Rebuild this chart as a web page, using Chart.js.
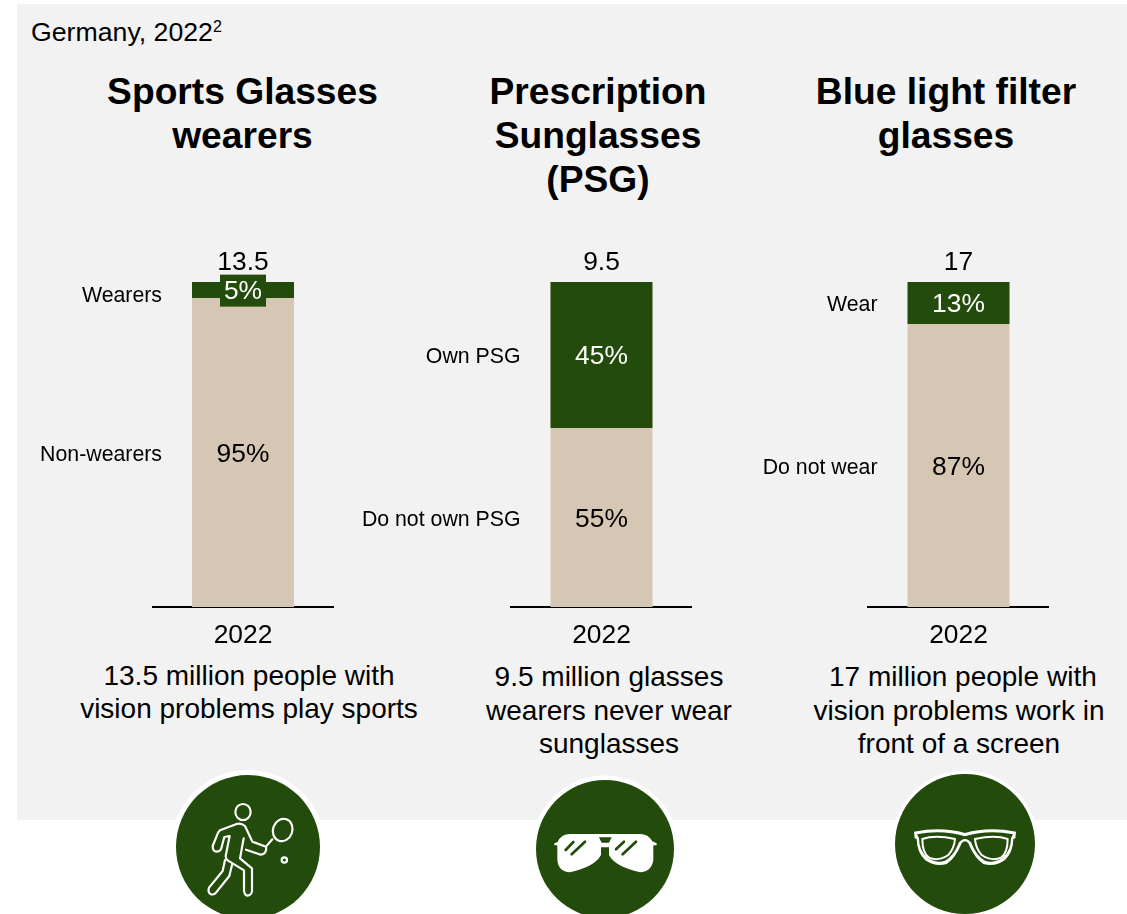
<!DOCTYPE html>
<html>
<head>
<meta charset="utf-8">
<title>Germany, 2022</title>
<script src="https://cdn.jsdelivr.net/npm/chart.js@4"></script>
<style>
html,body{margin:0;padding:0;background:#fff;}
body{width:1127px;height:914px;position:relative;overflow:hidden;font-family:"Liberation Sans",Arial,sans-serif;color:#000;}
#panel{position:absolute;left:17px;top:4px;width:1110px;height:816px;background:#f2f2f2;}
canvas{position:absolute;top:240px;}
.t{position:absolute;white-space:nowrap;transform:translate(-50%,-50%);text-align:center;}
.head{font-size:37.2px;font-weight:bold;line-height:44px;}
.note{font-size:28px;line-height:33.5px;}
#region{position:absolute;left:31px;top:17px;font-size:26.7px;line-height:30px;white-space:nowrap;}
#region sup{font-size:16px;line-height:0;vertical-align:9px;}
#icons{position:absolute;left:0;top:0;}
</style>
</head>
<body>
<div id="panel"></div>
<div id="region">Germany, 2022<sup>2</sup></div>

<div class="t head" style="left:242.5px;top:112.5px;">Sports Glasses<br>wearers</div>
<div class="t head" style="left:598px;top:134.5px;">Prescription<br>Sunglasses<br>(PSG)</div>
<div class="t head" style="left:946px;top:112.5px;">Blue light filter<br>glasses</div>

<canvas id="sportsChart"></canvas>
<canvas id="psgChart"></canvas>
<canvas id="blueChart"></canvas>

<div class="t note" style="left:249px;top:691.5px;">13.5 million people with<br>vision problems play sports</div>
<div class="t note" style="left:609px;top:710px;">9.5 million glasses<br>wearers never wear<br>sunglasses</div>
<div class="t note" style="left:959px;top:710px;">&nbsp;17 million people with<br>vision problems work in<br>front of a screen</div>

<svg id="icons" width="1127" height="914" viewBox="0 0 1127 914">
  <circle cx="248" cy="847" r="77" fill="#fff"/>
  <circle cx="248" cy="847" r="72" fill="#234b0b"/>
  <circle cx="605" cy="849" r="73.5" fill="#fff"/>
  <circle cx="605" cy="849" r="69" fill="#234b0b"/>
  <circle cx="965" cy="844" r="73.5" fill="#fff"/>
  <circle cx="965" cy="844" r="70" fill="#234b0b"/>

  <!-- tennis player -->
  <g transform="translate(195,791) scale(0.3333)" fill="none" stroke="#fff" stroke-width="6.5" stroke-linejoin="round" stroke-linecap="round">
    <ellipse cx="144" cy="63" rx="23" ry="24"/>
    <ellipse cx="263" cy="117" rx="29" ry="34" transform="rotate(20 263 117)"/>
    <circle cx="268" cy="207" r="8"/>
    <path d="M213 167L172 152L150 105Q138 95 125 99L75 118Q70 122 68 128L53 165Q53 182 65 182Q75 182 79 172L88 138L104 135L92 195Q92 203 98 208L147 238L147 300Q150 314 158 314Q170 312 171 300L171 232L135 202L146 142"/>
    <path d="M153 176L197 191Q210 190 213 178Q214 172 213 167L232 145"/>
    <path d="M90 207L83 240L42 290Q37 305 48 310Q58 312 63 305L103 255L111 222"/>
  </g>

  <!-- aviator sunglasses -->
  <g transform="translate(545,820) scale(0.3333)">
    <path fill="#fff" d="M28 76L28 70L38 66Q48 42 75 42L285 42Q310 42 322 64L335 70L335 76L325 76L325 120Q320 155 285 157Q210 140 192 105L192 82L168 82L168 105Q150 140 75 157Q40 155 37 120L37 76Z"/>
    <path fill="#234b0b" d="M162 52L200 52L192 68L170 68Z"/>
    <g stroke="#234b0b" stroke-width="8" stroke-linecap="round">
      <line x1="62" y1="90" x2="85" y2="66"/>
      <line x1="80" y1="103" x2="120" y2="65"/>
      <line x1="213" y1="88" x2="237" y2="65"/>
      <line x1="233" y1="103" x2="273" y2="65"/>
    </g>
  </g>

  <!-- thick framed glasses -->
  <g transform="translate(905,815) scale(0.3333)">
    <path fill="#fff" d="M27 50Q110 34 180 54Q250 34 333 50L331 70L325 72Q325 110 300 135Q270 157 235 147Q208 130 190 85Q180 72 170 85Q152 130 125 147Q90 157 60 135Q35 110 35 72L29 70Z"/>
    <path fill="#234b0b" d="M36 58Q110 43 180 64Q250 43 324 58L318 70Q318 108 292 128Q265 146 240 137Q215 125 198 82Q180 60 162 82Q145 125 120 137Q95 146 68 128Q42 108 42 70Z"/>
    <g fill="none" stroke="#fff" stroke-width="6" stroke-linejoin="round">
      <path d="M52 72Q90 58 150 72Q148 100 130 120Q100 140 72 128Q52 115 52 72Z"/>
      <path d="M308 72Q270 58 210 72Q212 100 230 120Q260 140 288 128Q308 115 308 72Z"/>
    </g>
  </g>
</svg>

<script>
const categories = ["2022"];

const sportsValues = [95, 5];
const sportsLabels = ["Non-wearers", "Wearers"];
const sportsTotal = "13.5";

const psgValues = [55, 45];
const psgLabels = ["Do not own PSG", "Own PSG"];
const psgTotal = "9.5";

const blueValues = [87, 13];
const blueLabels = ["Do not wear", "Wear"];
const blueTotal = "17";

const green = "#234b0b";
const tan = "#d5c7b3";
const fontName = '"Liberation Sans", Arial, sans-serif';

// draws the total, the percentages and the side captions of a stacked bar
const barText = {
  id: "barText",
  afterDatasetsDraw(chart, args, opts) {
    const c = chart.ctx;
    c.save();
    c.textBaseline = "middle";
    chart.data.datasets.forEach((ds, i) => {
      const bar = chart.getDatasetMeta(i).data[0];
      const mid = (bar.y + bar.base) / 2;
      const thin = bar.base - bar.y < 20;

      c.font = "21.3px " + fontName;
      c.textAlign = "right";
      c.fillStyle = "#000";
      // the caption of a thin segment sits a little lower than its centre
      c.fillText(opts.labels[i], bar.x - 81, mid + (thin ? 6 : 2));

      c.font = "26.4px " + fontName;
      c.textAlign = "center";
      if (thin) {
        c.fillStyle = green;
        c.fillRect(bar.x - 23, mid - 15.5, 46, 32);
      }
      c.fillStyle = i === 0 ? "#000" : "#fff";
      c.fillText(ds.data[0] + "%", bar.x, mid + 2);

      if (i === chart.data.datasets.length - 1) {
        c.fillStyle = "#000";
        c.fillText(opts.total, bar.x, bar.y - 19);
      }
    });
    c.restore();
  }
};

function drawChart(id, left, axisLeft, axisRight, values, labels, total) {
  const canvas = document.getElementById(id);
  canvas.style.left = left + "px";
  canvas.width = Math.ceil(axisRight - left);
  canvas.height = 410;

  return new Chart(canvas, {
    type: "bar",
    data: {
      labels: categories,
      datasets: [
        { label: labels[0], data: [values[0]], backgroundColor: tan },
        { label: labels[1], data: [values[1]], backgroundColor: green }
      ]
    },
    options: {
      responsive: false,
      animation: false,
      layout: {
        padding: {
          left: axisLeft - left,
          top: 42,
          right: canvas.width - (axisRight - left),
          bottom: 0
        }
      },
      datasets: { bar: { categoryPercentage: 102 / 181, barPercentage: 1 } },
      plugins: {
        legend: { display: false },
        tooltip: { enabled: false },
        barText: { labels: labels, total: total }
      },
      scales: {
        x: {
          stacked: true,
          grid: { display: false },
          border: { display: true, color: "#000", width: 2 },
          ticks: { color: "#000", font: { size: 26.4, family: fontName }, padding: 5 },
          afterFit(scale) { scale.height = 43; }
        },
        y: { stacked: true, display: false, min: 0, max: 100 }
      }
    },
    plugins: [barText]
  });
}

drawChart("sportsChart", 20, 152.5, 333.5, sportsValues, sportsLabels, sportsTotal);
drawChart("psgChart", 340, 511, 692, psgValues, psgLabels, psgTotal);
drawChart("blueChart", 740, 868, 1049, blueValues, blueLabels, blueTotal);
</script>
</body>
</html>
